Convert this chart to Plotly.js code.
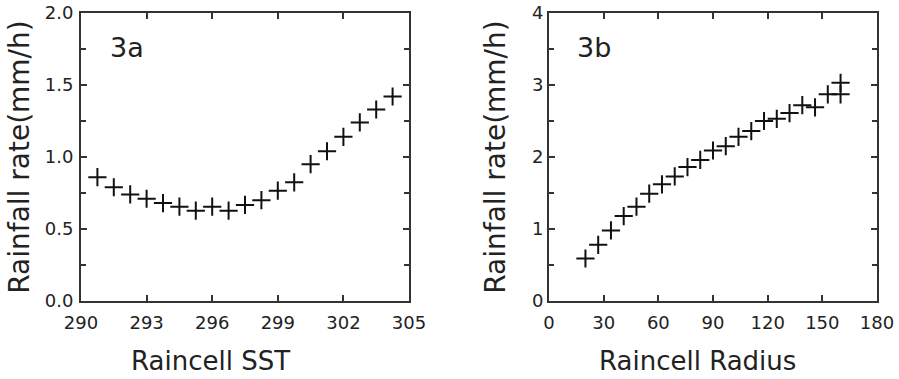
<!DOCTYPE html>
<html>
<head>
<meta charset="utf-8">
<script src="https://cdn.plot.ly/plotly-3.0.1.min.js"></script>
<style>html,body{margin:0;padding:0;background:#fff;}#chart{width:899px;height:379px;}</style>
</head>
<body>
<div id="chart"></div>
<script>
// Panel 3a: rainfall rate vs raincell SST
const sstX = [290.75, 291.5, 292.25, 293, 293.75, 294.5, 295.25, 296, 296.75, 297.5, 298.25, 299, 299.75, 300.5, 301.25, 302, 302.75, 303.5, 304.25];
const sstRain = [0.86, 0.79, 0.74, 0.71, 0.68, 0.655, 0.627, 0.655, 0.627, 0.667, 0.70, 0.766, 0.824, 0.95, 1.04, 1.14, 1.24, 1.33, 1.42];
const sstTicks = [290, 293, 296, 299, 302, 305];
const rateTicksA = [0, 0.5, 1.0, 1.5, 2.0];
const rateTickTextA = ["0.0", "0.5", "1.0", "1.5", "2.0"];

// Panel 3b: rainfall rate vs raincell radius
const radiusX = [20, 27, 34, 41, 48, 55, 62, 69, 76, 83, 90, 97, 104, 111, 118, 125, 132, 139, 146, 153, 160, 160];
const radiusRain = [0.59, 0.78, 0.98, 1.18, 1.31, 1.49, 1.62, 1.73, 1.86, 1.96, 2.09, 2.15, 2.28, 2.36, 2.50, 2.53, 2.61, 2.72, 2.69, 2.87, 2.87, 3.03];
const radiusTicks = [0, 30, 60, 90, 120, 150, 180];
const rateTicksB = [0, 1, 2, 3, 4];

const ink = '#222';
const tickFont = {family: 'DejaVu Sans', size: 18, color: ink};
const titleFont = {family: 'DejaVu Sans', size: 28, color: ink};
const xTitleFont = {family: 'DejaVu Sans', size: 26, color: ink};

const marker = {symbol: 'cross-thin-open', size: 13, line: {width: 2, color: '#111'}, color: '#111'};

const traces = [
  {x: sstX, y: sstRain, type: 'scatter', mode: 'markers', marker: marker, xaxis: 'x', yaxis: 'y', name: '3a'},
  {x: radiusX, y: radiusRain, type: 'scatter', mode: 'markers', marker: marker, xaxis: 'x2', yaxis: 'y2', name: '3b'}
];

function axisBase() {
  return {
    showgrid: false, zeroline: false, showline: true, mirror: 'ticks',
    linecolor: '#333', linewidth: 2,
    ticks: 'inside', ticklen: 6, tickwidth: 2, tickcolor: '#333',
    tickfont: tickFont, fixedrange: true
  };
}

const xa = Object.assign(axisBase(), {
  domain: [81/899, 409/899], range: [290, 305], tickmode: 'array',
  tickvals: sstTicks, ticktext: sstTicks.map(String), anchor: 'y', ticklabelstandoff: 4
});
const ya = Object.assign(axisBase(), {
  domain: [1 - 301/379, 1 - 13/379], range: [0, 2], tickmode: 'array',
  tickvals: rateTicksA, ticktext: rateTickTextA, anchor: 'x', ticklabelstandoff: 2,
  minor: {dtick: 0.25, tick0: 0, ticks: 'inside', ticklen: 5, tickwidth: 2, tickcolor: '#333', showgrid: false},
  title: {text: 'Rainfall rate(mm/h)', font: titleFont, standoff: 7}
});
const xb = Object.assign(axisBase(), {
  domain: [549/899, 877/899], range: [0, 180], tickmode: 'array',
  tickvals: radiusTicks, ticktext: radiusTicks.map(String), anchor: 'y2', ticklabelstandoff: 4
});
const yb = Object.assign(axisBase(), {
  domain: [1 - 301/379, 1 - 13/379], range: [0, 4], tickmode: 'array',
  tickvals: rateTicksB, ticktext: rateTicksB.map(String), anchor: 'x2', ticklabelstandoff: 0,
  minor: {dtick: 0.5, tick0: 0, ticks: 'inside', ticklen: 5, tickwidth: 2, tickcolor: '#333', showgrid: false},
  title: {text: 'Rainfall rate(mm/h)', font: titleFont, standoff: 18}
});

const layout = {
  width: 899, height: 379,
  margin: {l: 0, r: 0, t: 0, b: 0},
  paper_bgcolor: '#fff', plot_bgcolor: '#fff',
  showlegend: false,
  xaxis: xa, yaxis: ya, xaxis2: xb, yaxis2: yb,
  annotations: [
    {text: '3a', xref: 'paper', yref: 'paper', x: 108/899, y: 1 - 30/379, xanchor: 'left', yanchor: 'top', showarrow: false, font: {family: 'DejaVu Sans', size: 27, color: ink}},
    {text: '3b', xref: 'paper', yref: 'paper', x: 575/899, y: 1 - 30/379, xanchor: 'left', yanchor: 'top', showarrow: false, font: {family: 'DejaVu Sans', size: 27, color: ink}},
    {text: 'Raincell SST', xref: 'paper', yref: 'paper', x: 210/899, y: 1 - 361/379, xanchor: 'center', yanchor: 'middle', showarrow: false, font: xTitleFont},
    {text: 'Raincell Radius', xref: 'paper', yref: 'paper', x: 697/899, y: 1 - 361/379, xanchor: 'center', yanchor: 'middle', showarrow: false, font: xTitleFont}
  ]
};

Plotly.newPlot('chart', traces, layout, {displayModeBar: false, staticPlot: true});
</script>
</body>
</html>
